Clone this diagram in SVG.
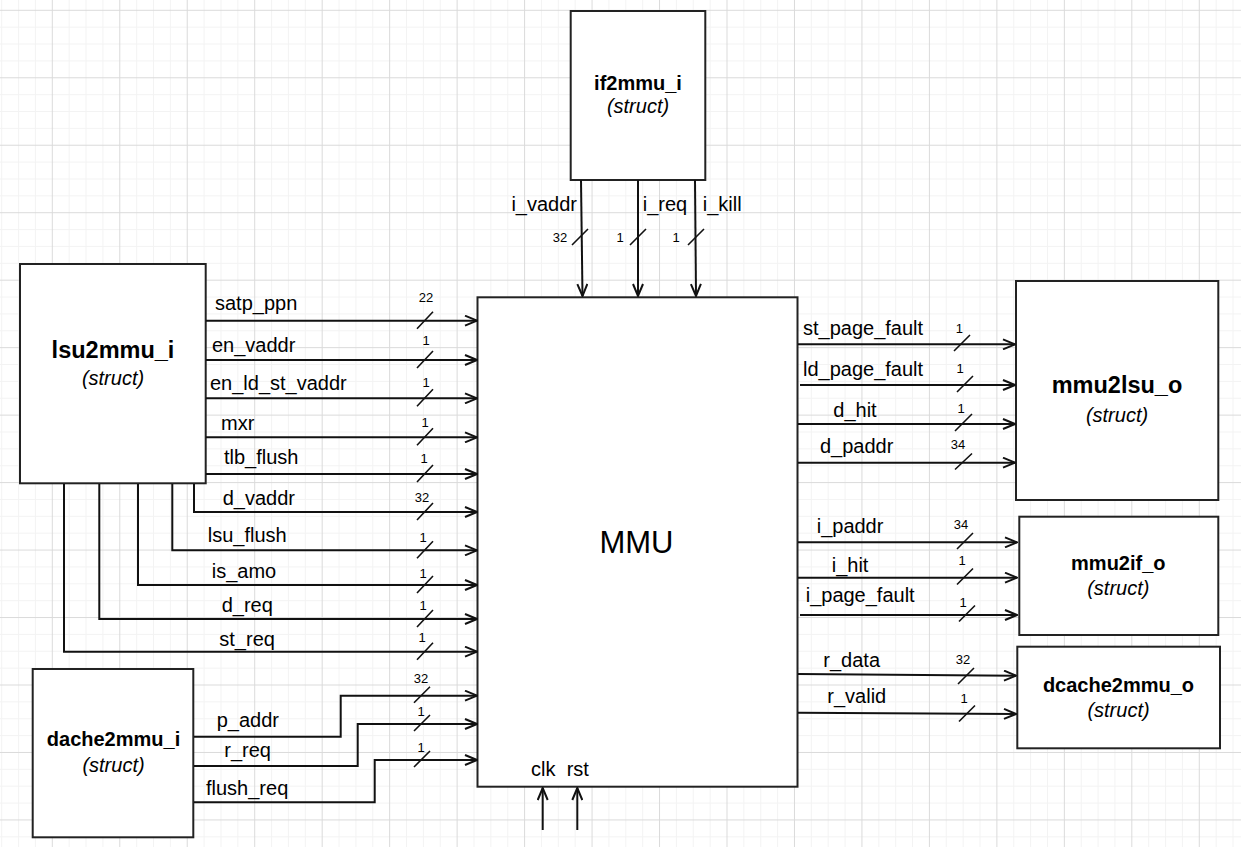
<svg xmlns="http://www.w3.org/2000/svg" width="1241" height="847" viewBox="0 0 1241 847">
<style>
text{font-family:"Liberation Sans",Arial,sans-serif;fill:#000}
.lbl{font-size:20px}
.num{font-size:13px;text-anchor:middle}
.ttl{font-size:20px;font-weight:bold;text-anchor:middle}
.big{font-size:23.5px;font-weight:bold;text-anchor:middle}
.st{font-size:20px;font-style:italic;text-anchor:middle}
.mmu{font-size:31px;text-anchor:middle}
.box{fill:#fff;stroke:#222;stroke-width:2}
.w{fill:none;stroke:#111;stroke-width:2}
.sl{fill:none;stroke:#111;stroke-width:1.6}
</style>
<defs>
<pattern id="grid" patternUnits="userSpaceOnUse" x="51.8" y="9.8" width="67.47" height="67.47">
<rect x="16.87" y="0" width="1" height="67.47" fill="#f3f3f3"/>
<rect x="33.73" y="0" width="1" height="67.47" fill="#f3f3f3"/>
<rect x="50.6" y="0" width="1" height="67.47" fill="#f3f3f3"/>
<rect x="0" y="16.87" width="67.47" height="1" fill="#f3f3f3"/>
<rect x="0" y="33.73" width="67.47" height="1" fill="#f3f3f3"/>
<rect x="0" y="50.6" width="67.47" height="1" fill="#f3f3f3"/>
<rect x="0" y="0" width="1" height="67.47" fill="#dadada"/>
<rect x="0" y="0" width="67.47" height="1" fill="#dadada"/>
</pattern>
<marker id="ar" markerUnits="userSpaceOnUse" viewBox="0 0 14 12" refX="13" refY="6" markerWidth="14" markerHeight="12" orient="auto">
<path d="M1,1 L13,6 L1,11" fill="none" stroke="#111" stroke-width="2"/>
</marker>
</defs>
<rect width="1241" height="847" fill="#fff"/>
<rect width="1241" height="847" fill="url(#grid)"/>

<g id="if2mmu_i">
<rect class="box" x="570.7" y="11" width="134.6" height="169"/>
<text class="ttl" x="638" y="90">if2mmu_i</text>
<text class="st" x="638" y="112.7">(struct)</text>
</g>
<g id="lsu2mmu_i">
<rect class="box" x="20" y="264" width="185.7" height="219.3"/>
<text class="big" x="113" y="357.7">lsu2mmu_i</text>
<text class="st" x="113" y="385">(struct)</text>
</g>
<g id="dache2mmu_i">
<rect class="box" x="32.7" y="669" width="160.6" height="168.3"/>
<text class="ttl" x="113.5" y="746">dache2mmu_i</text>
<text class="st" x="113.5" y="771.5">(struct)</text>
</g>
<g id="MMU">
<rect class="box" x="477.5" y="297.3" width="320" height="489.4"/>
<text class="mmu" x="636.5" y="552.7">MMU</text>
</g>
<g id="mmu2lsu_o">
<rect class="box" x="1016" y="281" width="202.3" height="219"/>
<text class="big" x="1117" y="393.3">mmu2lsu_o</text>
<text class="st" x="1117" y="421.7">(struct)</text>
</g>
<g id="mmu2if_o">
<rect class="box" x="1019.3" y="516.7" width="199" height="118.3"/>
<text class="ttl" x="1118.3" y="570">mmu2if_o</text>
<text class="st" x="1118.3" y="595">(struct)</text>
</g>
<g id="dcache2mmu_o">
<rect class="box" x="1017.3" y="646.7" width="202.7" height="101.6"/>
<text class="ttl" x="1118.5" y="691.7">dcache2mmu_o</text>
<text class="st" x="1118.5" y="716.7">(struct)</text>
</g>

<g id="connectors">
<path class="w" d="M581,180 L582.5,296" marker-end="url(#ar)"/>
<path class="w" d="M638,180 L638,296" marker-end="url(#ar)"/>
<path class="w" d="M695,180 L696,296" marker-end="url(#ar)"/>
<path class="sl" d="M572,245 L588,229 M630,245 L646,229 M688,245 L704,229"/>
<path class="w" d="M206,320.7 H477" marker-end="url(#ar)"/>
<path class="w" d="M206,360 H477" marker-end="url(#ar)"/>
<path class="w" d="M206,398.3 H477" marker-end="url(#ar)"/>
<path class="w" d="M206,437.3 H477" marker-end="url(#ar)"/>
<path class="w" d="M206,474 H477" marker-end="url(#ar)"/>
<path class="w" d="M194,484 V512 H477" marker-end="url(#ar)"/>
<path class="w" d="M172.3,484 V550.3 H477" marker-end="url(#ar)"/>
<path class="w" d="M138,484 V585 H477" marker-end="url(#ar)"/>
<path class="w" d="M99.3,484 V619 H477" marker-end="url(#ar)"/>
<path class="w" d="M64,484 V651.7 H477" marker-end="url(#ar)"/>
<path class="w" d="M194,736.7 H340.7 V695.7 H477" marker-end="url(#ar)"/>
<path class="w" d="M194,766 H357.7 V724 H477" marker-end="url(#ar)"/>
<path class="w" d="M194,802.3 H374.7 V760 H477" marker-end="url(#ar)"/>
<path class="sl" d="M417,328.7 L433,311.7 M417,368 L433,351 M417,406.3 L433,389.3 M417,445.3 L433,428.3 M417,482 L433,465 M417,520 L433,503 M417,558.3 L433,541.3 M417,593 L433,576 M417,627 L433,610 M417,659.7 L433,642.7 M414,702.7 L430,686.7 M414,731 L430,715 M414,767 L430,751"/>
<path class="w" d="M542.7,830 V788" marker-end="url(#ar)"/>
<path class="w" d="M577.3,830 V788" marker-end="url(#ar)"/>
<path class="w" d="M798,344.3 H1015" marker-end="url(#ar)"/>
<path class="w" d="M800,385 H1015" marker-end="url(#ar)"/>
<path class="w" d="M798,424 H1015" marker-end="url(#ar)"/>
<path class="w" d="M798,462.7 H1015" marker-end="url(#ar)"/>
<path class="w" d="M798,542.3 H1017" marker-end="url(#ar)"/>
<path class="w" d="M798,577.7 H1017" marker-end="url(#ar)"/>
<path class="w" d="M800,615 H1017" marker-end="url(#ar)"/>
<path class="w" d="M798,674 L1016,675.7" marker-end="url(#ar)"/>
<path class="w" d="M798,712.7 L1016,714" marker-end="url(#ar)"/>
<path class="sl" d="M954,351 L970,335 M957,392 L973,376 M955,431 L972,414 M955,469.5 L972,453.5 M957,549 L973,533 M957,584.5 L973,568.5 M959,621.5 L975,605.5 M958,684 L974,668 M959,721.5 L975,705.5"/>
</g>

<g id="connector-labels">
<text class="lbl" x="577" y="210.7" text-anchor="end">i_vaddr</text>
<text class="lbl" x="642.7" y="210.7">i_req</text>
<text class="lbl" x="702.7" y="210.7">i_kill</text>
<text class="num" x="560" y="241.7">32</text>
<text class="num" x="620" y="241.7">1</text>
<text class="num" x="676" y="241.7">1</text>

<text class="lbl" x="215" y="310">satp_ppn</text>
<text class="lbl" x="212" y="351.7">en_vaddr</text>
<text class="lbl" x="210" y="390">en_ld_st_vaddr</text>
<text class="lbl" x="221" y="430">mxr</text>
<text class="lbl" x="224" y="464.3">tlb_flush</text>
<text class="lbl" x="222.7" y="505">d_vaddr</text>
<text class="lbl" x="207.7" y="541.7">lsu_flush</text>
<text class="lbl" x="211.7" y="578.3">is_amo</text>
<text class="lbl" x="221.7" y="611.7">d_req</text>
<text class="lbl" x="219.3" y="645.7">st_req</text>
<text class="lbl" x="216.7" y="727.3">p_addr</text>
<text class="lbl" x="224.3" y="757.3">r_req</text>
<text class="lbl" x="206" y="795">flush_req</text>

<text class="num" x="426" y="301.7">22</text>
<text class="num" x="426" y="345">1</text>
<text class="num" x="426" y="386.7">1</text>
<text class="num" x="425" y="426.7">1</text>
<text class="num" x="424" y="463.3">1</text>
<text class="num" x="422" y="502">32</text>
<text class="num" x="423" y="541.7">1</text>
<text class="num" x="423" y="578.3">1</text>
<text class="num" x="423" y="610">1</text>
<text class="num" x="422" y="641.7">1</text>
<text class="num" x="421" y="683.3">32</text>
<text class="num" x="421" y="716">1</text>
<text class="num" x="421" y="751.7">1</text>

<text class="lbl" x="531" y="776">clk</text>
<text class="lbl" x="566.7" y="776">rst</text>

<text class="lbl" x="803" y="335">st_page_fault</text>
<text class="lbl" x="803" y="376">ld_page_fault</text>
<text class="lbl" x="833.3" y="416.7">d_hit</text>
<text class="lbl" x="820" y="453.3">d_paddr</text>
<text class="lbl" x="816.7" y="533.3">i_paddr</text>
<text class="lbl" x="831.7" y="571.7">i_hit</text>
<text class="lbl" x="805.7" y="601.7">i_page_fault</text>
<text class="lbl" x="823.3" y="666.7">r_data</text>
<text class="lbl" x="827.3" y="703.3">r_valid</text>

<text class="num" x="959.3" y="333.3">1</text>
<text class="num" x="960" y="372.7">1</text>
<text class="num" x="961" y="413.3">1</text>
<text class="num" x="958" y="449.3">34</text>
<text class="num" x="961" y="529.3">34</text>
<text class="num" x="962" y="565">1</text>
<text class="num" x="963" y="606.7">1</text>
<text class="num" x="963" y="664">32</text>
<text class="num" x="964" y="703">1</text>
</g>
</svg>
